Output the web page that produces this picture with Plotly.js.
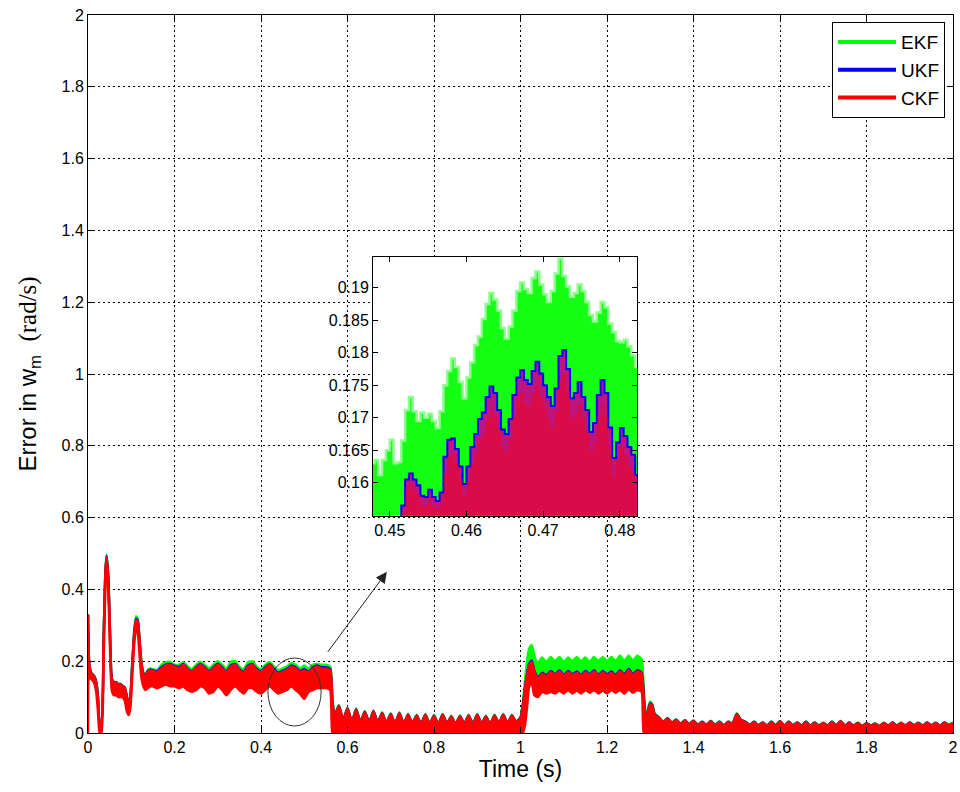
<!DOCTYPE html>
<html><head><meta charset="utf-8">
<script src="https://cdn.plot.ly/plotly-3.0.1.min.js"></script>
<style>html,body{margin:0;padding:0;background:#fff}#chart{width:960px;height:792px}</style>
</head><body><div id="chart"></div>
<script>
// ---------- main plot: time base (s) ----------
const time = [
  0,0.003,0.008,0.014,0.019,0.023,0.027,0.031,0.036,0.040,0.043,0.047,0.051,0.055,0.060,0.065,0.070,0.075,0.080,0.085,0.090,0.094,0.098,0.102,0.107,0.111,0.115,0.119,0.123,0.128,0.133,0.138,0.144,0.150,
  0.16,0.17,0.18,0.19,0.20,0.21,0.22,0.23,0.24,0.25,0.26,0.27,0.28,0.29,0.30,0.31,0.32,0.33,0.34,0.35,0.36,0.37,0.38,0.39,0.40,0.41,0.42,0.43,0.44,0.45,0.46,0.47,0.48,0.49,0.50,0.51,0.52,0.53,0.54,0.55,0.56,
  0.565,0.57,
  0.58,0.59,0.60,0.61,0.62,0.63,0.64,0.65,0.66,0.67,0.68,0.69,0.70,0.71,0.72,0.73,0.74,0.75,0.76,0.77,0.78,0.79,0.80,0.81,0.82,0.83,0.84,0.85,0.86,0.87,0.88,0.89,0.90,0.91,0.92,0.93,0.94,0.95,0.96,0.97,0.98,0.99,1.00,
  1.005,1.01,1.015,1.02,1.026,1.032,
  1.04,1.05,1.06,1.07,1.08,1.09,1.10,1.11,1.12,1.13,1.14,1.15,1.16,1.17,1.18,1.19,1.20,1.21,1.22,1.23,1.24,1.25,1.26,1.27,1.28,
  1.285,1.29,1.295,1.30,1.305,1.31,
  1.32,1.33,1.34,1.35,1.36,1.37,1.38,1.39,1.40,1.41,1.42,1.43,1.44,1.45,1.46,1.47,1.48,1.49,1.50,1.51,1.52,1.53,1.54,1.55,1.56,1.57,1.58,1.59,1.60,1.61,1.62,1.63,1.64,1.65,1.66,1.67,1.68,1.69,1.70,1.71,1.72,1.73,1.74,1.75,1.76,1.77,1.78,1.79,1.80,1.81,1.82,1.83,1.84,1.85,1.86,1.87,1.88,1.89,1.90,1.91,1.92,1.93,1.94,1.95,1.96,1.97,1.98,1.99,2.00
];
// EKF upper envelope
const ekfHi = [
  0.33,0.19,0.167,0.16,0.142,0.10,0.03,0.03,0.255,0.445,0.497,0.435,0.275,0.153,0.142,0.142,0.137,0.137,0.132,0.127,0.10,0.08,0.10,0.185,0.285,0.325,0.318,0.265,0.203,0.168,0.163,0.175,0.18,0.178,
  0.175,0.19,0.197,0.198,0.19,0.19,0.197,0.186,0.178,0.19,0.198,0.19,0.18,0.19,0.2,0.19,0.178,0.198,0.2,0.185,0.178,0.197,0.2,0.185,0.178,0.19,0.198,0.185,0.175,0.18,0.185,0.195,0.19,0.18,0.188,0.18,0.19,0.192,0.19,0.19,0.185,
  0.1,0.05,
  0.078,0.036,0.071,0.031,0.068,0.031,0.061,0.029,0.063,0.029,0.058,0.028,0.055,0.026,0.058,0.026,0.053,0.027,0.051,0.025,0.053,0.026,0.05,0.025,0.053,0.026,0.048,0.025,0.049,0.026,0.051,0.025,0.053,0.026,0.048,0.025,0.051,0.027,0.053,0.027,0.051,0.031,0.045,
  0.08,0.14,0.2,0.235,0.245,0.215,
  0.195,0.21,0.198,0.212,0.2,0.212,0.198,0.21,0.2,0.212,0.2,0.21,0.198,0.212,0.2,0.212,0.2,0.212,0.2,0.215,0.2,0.215,0.202,0.215,0.205,
  0.12,0.035,0.07,0.088,0.08,0.055,
  0.044,0.031,0.042,0.029,0.038,0.026,0.036,0.025,0.035,0.023,0.032,0.023,0.034,0.023,0.032,0.022,0.032,0.026,0.055,0.037,0.032,0.023,0.032,0.022,0.03,0.021,0.032,0.022,0.034,0.021,0.032,0.022,0.03,0.021,0.032,0.021,0.03,0.021,0.029,0.021,0.032,0.022,0.034,0.021,0.03,0.021,0.029,0.02,0.028,0.021,0.027,0.02,0.029,0.021,0.03,0.021,0.029,0.021,0.03,0.022,0.029,0.021,0.03,0.022,0.029,0.021,0.03,0.023,0.029
];
// UKF upper envelope
const ukfHi = [
  0.33,0.19,0.166,0.159,0.141,0.10,0.03,0.03,0.252,0.442,0.493,0.432,0.272,0.151,0.141,0.141,0.136,0.136,0.131,0.126,0.10,0.08,0.10,0.182,0.282,0.318,0.313,0.262,0.201,0.166,0.161,0.172,0.177,0.174,
  0.172,0.183,0.19,0.192,0.187,0.183,0.192,0.18,0.172,0.183,0.192,0.183,0.172,0.183,0.193,0.183,0.17,0.188,0.192,0.178,0.17,0.188,0.192,0.178,0.172,0.183,0.192,0.178,0.168,0.173,0.178,0.188,0.183,0.173,0.178,0.17,0.183,0.188,0.183,0.183,0.178,
  0.092,0.046,
  0.076,0.036,0.069,0.031,0.066,0.031,0.059,0.029,0.061,0.029,0.056,0.028,0.053,0.026,0.056,0.026,0.051,0.027,0.049,0.025,0.051,0.026,0.048,0.025,0.051,0.026,0.046,0.025,0.047,0.026,0.049,0.025,0.051,0.026,0.046,0.025,0.049,0.027,0.051,0.027,0.049,0.031,0.042,
  0.072,0.123,0.163,0.193,0.202,0.174,
  0.153,0.168,0.161,0.173,0.163,0.175,0.161,0.173,0.163,0.171,0.161,0.173,0.163,0.175,0.161,0.173,0.163,0.171,0.161,0.175,0.163,0.178,0.163,0.175,0.168,
  0.105,0.032,0.063,0.083,0.077,0.052,
  0.043,0.03,0.041,0.028,0.037,0.025,0.035,0.024,0.034,0.022,0.031,0.022,0.033,0.022,0.031,0.021,0.031,0.025,0.053,0.036,0.031,0.022,0.031,0.021,0.029,0.02,0.031,0.021,0.033,0.02,0.031,0.021,0.029,0.02,0.031,0.02,0.029,0.02,0.028,0.02,0.031,0.021,0.033,0.02,0.029,0.02,0.028,0.019,0.027,0.02,0.026,0.019,0.028,0.02,0.029,0.02,0.028,0.02,0.029,0.021,0.028,0.02,0.029,0.021,0.028,0.02,0.029,0.022,0.028
];
// CKF upper envelope
const ckfHi = [
  0.33,0.19,0.165,0.158,0.14,0.10,0.03,0.03,0.25,0.44,0.49,0.43,0.27,0.15,0.14,0.14,0.135,0.135,0.13,0.125,0.10,0.08,0.10,0.18,0.28,0.315,0.31,0.26,0.20,0.165,0.16,0.17,0.175,0.172,
  0.17,0.18,0.188,0.19,0.185,0.18,0.19,0.178,0.17,0.18,0.19,0.18,0.17,0.18,0.19,0.18,0.168,0.185,0.19,0.175,0.168,0.185,0.19,0.175,0.17,0.18,0.19,0.175,0.165,0.17,0.175,0.185,0.18,0.17,0.175,0.168,0.18,0.185,0.18,0.18,0.175,
  0.09,0.045,
  0.075,0.035,0.068,0.03,0.065,0.03,0.058,0.028,0.06,0.028,0.055,0.027,0.052,0.025,0.055,0.025,0.05,0.026,0.048,0.024,0.05,0.025,0.047,0.024,0.05,0.025,0.045,0.024,0.046,0.025,0.048,0.024,0.05,0.025,0.045,0.024,0.048,0.026,0.05,0.026,0.048,0.03,0.04,
  0.07,0.12,0.16,0.19,0.198,0.17,
  0.15,0.165,0.158,0.17,0.16,0.172,0.158,0.17,0.16,0.168,0.158,0.17,0.16,0.172,0.158,0.17,0.16,0.168,0.158,0.172,0.16,0.175,0.16,0.172,0.165,
  0.1,0.03,0.06,0.08,0.075,0.05,
  0.042,0.03,0.04,0.028,0.036,0.025,0.034,0.024,0.033,0.022,0.03,0.022,0.032,0.022,0.03,0.021,0.03,0.025,0.052,0.035,0.03,0.022,0.03,0.021,0.028,0.02,0.03,0.021,0.032,0.02,0.03,0.021,0.028,0.02,0.03,0.02,0.028,0.02,0.027,0.02,0.03,0.021,0.032,0.02,0.028,0.02,0.027,0.019,0.026,0.02,0.025,0.019,0.027,0.02,0.028,0.02,0.027,0.02,0.028,0.021,0.027,0.02,0.028,0.021,0.027,0.02,0.028,0.022,0.027
];
// common lower envelope of the three error signals
const ckfLo = [
  0,0.155,0.15,0.14,0.115,0.06,0,0,0.2,0.4,0.47,0.4,0.23,0.12,0.105,0.105,0.10,0.10,0.10,0.09,0.06,0.05,0.07,0.15,0.25,0.29,0.28,0.22,0.16,0.13,0.12,0.125,0.13,0.13,
  0.125,0.13,0.135,0.13,0.13,0.125,0.13,0.12,0.115,0.12,0.13,0.125,0.11,0.115,0.13,0.12,0.105,0.12,0.13,0.12,0.11,0.125,0.125,0.115,0.11,0.12,0.13,0.12,0.11,0.115,0.12,0.13,0.12,0.11,0.095,0.115,0.12,0.125,0.125,0.125,0.12,
  0,0,
  0,0,0,0,0,0,0,0,0,0,0,0,0,0,0,0,0,0,0,0,0,0,0,0,0,0,0,0,0,0,0,0,0,0,0,0,0,0,0,0,0,0,0,
  0,0.02,0.07,0.13,0.14,0.105,
  0.10,0.115,0.11,0.115,0.11,0.118,0.11,0.12,0.11,0.118,0.11,0.12,0.112,0.12,0.11,0.118,0.11,0.12,0.112,0.12,0.11,0.122,0.112,0.12,0.115,
  0,0,0,0,0,0,
  0,0,0,0,0,0,0,0,0,0,0,0,0,0,0,0,0,0,0,0,0,0,0,0,0,0,0,0,0,0,0,0,0,0,0,0,0,0,0,0,0,0,0,0,0,0,0,0,0,0,0,0,0,0,0,0,0,0,0,0,0,0,0,0,0,0,0,0,0
];
// ---------- inset (zoom 0.448 - 0.482 s) ----------
const timeZoom = [
  0.4475,0.4480,0.4485,0.4490,0.4495,0.4500,0.4505,0.4510,0.4515,0.4520,
  0.4525,0.4530,0.4535,0.4540,0.4545,0.4550,0.4555,0.4560,0.4565,0.4570,
  0.4575,0.4580,0.4585,0.4590,0.4595,0.4600,0.4605,0.4610,0.4615,0.4620,
  0.4625,0.4630,0.4635,0.4640,0.4645,0.4650,0.4655,0.4660,0.4665,0.4670,
  0.4675,0.4680,0.4685,0.4690,0.4695,0.4700,0.4705,0.4710,0.4715,0.4720,
  0.4725,0.4730,0.4735,0.4740,0.4745,0.4750,0.4755,0.4760,0.4765,0.4770,
  0.4775,0.4780,0.4785,0.4790,0.4795,0.4800,0.4805,0.4810,0.4815,0.4820,
  0.4825
];
const ekfZoom = [
  0.163,0.1635,0.1612,0.1635,0.165,0.1666,0.163,0.1632,0.1665,0.1712,
  0.1732,0.171,0.1695,0.1708,0.17,0.1706,0.1695,0.1684,0.171,0.175,
  0.1772,0.1791,0.1778,0.1755,0.173,0.1762,0.1785,0.1812,0.1825,0.1852,
  0.1875,0.1892,0.1882,0.1865,0.1838,0.1822,0.184,0.1865,0.1895,0.1908,
  0.1898,0.1892,0.1915,0.1925,0.1905,0.189,0.1878,0.1895,0.1922,0.1945,
  0.1918,0.1902,0.1886,0.1892,0.1905,0.1895,0.1878,0.1858,0.1848,0.1862,
  0.1878,0.187,0.1845,0.1832,0.1818,0.1816,0.182,0.181,0.1796,0.1778,
  0.1765
];
const ukfZoom = [
  0.152,0.152,0.152,0.152,0.152,0.152,0.152,0.152,0.1565,0.1605,
  0.1614,0.1605,0.1596,0.158,0.1578,0.1589,0.1578,0.1572,0.1585,0.164,
  0.1666,0.1668,0.1652,0.1625,0.1598,0.1625,0.1655,0.1675,0.1698,0.1708,
  0.1732,0.1748,0.1738,0.1712,0.1682,0.1675,0.1698,0.1735,0.1762,0.1773,
  0.1758,0.1752,0.1772,0.1786,0.1768,0.175,0.1732,0.1718,0.1745,0.1795,
  0.1804,0.1775,0.173,0.1738,0.1755,0.1732,0.1712,0.1678,0.1692,0.1735,
  0.1758,0.1738,0.1685,0.1638,0.1662,0.1684,0.1672,0.1655,0.1643,0.1612,
  0.1632
];
const ckfZoom = [
  0.152,0.152,0.152,0.152,0.152,0.152,0.152,0.152,0.1555,0.159,
  0.1598,0.159,0.1582,0.1565,0.1566,0.1575,0.1565,0.156,0.157,0.1615,
  0.1642,0.1645,0.163,0.1605,0.158,0.1602,0.1628,0.1645,0.1665,0.1675,
  0.1698,0.1712,0.1702,0.1682,0.1655,0.1648,0.1668,0.1702,0.1725,0.1738,
  0.1722,0.1718,0.1736,0.175,0.1732,0.1715,0.1698,0.1685,0.171,0.1758,
  0.1768,0.174,0.1698,0.1705,0.172,0.17,0.168,0.1648,0.166,0.17,
  0.1722,0.1705,0.1655,0.161,0.1635,0.1655,0.1642,0.1626,0.1615,0.1585,
  0.1605
];
// ---------- labels / ticks ----------
const seriesNames = ['EKF', 'UKF', 'CKF'];
const mainTickVals = [0,0.2,0.4,0.6,0.8,1,1.2,1.4,1.6,1.8,2];
const mainTickText = ['0','0.2','0.4','0.6','0.8','1','1.2','1.4','1.6','1.8','2'];
const zoomXTickVals = [0.45,0.46,0.47,0.48];
const zoomXTickText = ['0.45','0.46','0.47','0.48'];
const zoomYTickVals = [0.16,0.165,0.17,0.175,0.18,0.185,0.19];
const zoomYTickText = ['0.16','0.165','0.17','0.175','0.18','0.185','0.19'];

[ekfHi, ukfHi, ckfHi, ckfLo].forEach((a, i) => {
  if (a.length !== time.length) throw new Error('length mismatch main ' + i + ': ' + a.length + ' vs ' + time.length);
});
[ekfZoom, ukfZoom, ckfZoom].forEach((a, i) => {
  if (a.length !== timeZoom.length) throw new Error('length mismatch zoom ' + i + ': ' + a.length + ' vs ' + timeZoom.length);
});

const GREEN = '#00ff00', BLUE = '#0000ff', RED = '#ff0000';
const FONT = 'Liberation Sans, Arial, Helvetica, sans-serif';
const spl = {shape: 'spline', smoothing: 0.5};

const traces = [
  {x: time, y: ckfLo, mode: 'lines', line: Object.assign({width: 0}, spl), showlegend: false, hoverinfo: 'skip'},
  {x: time, y: ekfHi, mode: 'lines', fill: 'tonexty', fillcolor: GREEN, line: Object.assign({color: GREEN, width: 2.5}, spl), showlegend: false, name: seriesNames[0]},
  {x: time, y: ckfLo, mode: 'lines', line: Object.assign({width: 0}, spl), showlegend: false, hoverinfo: 'skip'},
  {x: time, y: ukfHi, mode: 'lines', fill: 'tonexty', fillcolor: BLUE, line: Object.assign({color: BLUE, width: 2.5}, spl), showlegend: false, name: seriesNames[1]},
  {x: time, y: ckfLo, mode: 'lines', line: Object.assign({color: RED, width: 2.5}, spl), showlegend: false, hoverinfo: 'skip'},
  {x: time, y: ckfHi, mode: 'lines', fill: 'tonexty', fillcolor: RED, line: Object.assign({color: RED, width: 2.5}, spl), showlegend: false, name: seriesNames[2]},
  // legend entries
  {x: [null], y: [null], mode: 'lines', line: {color: GREEN, width: 4}, name: seriesNames[0]},
  {x: [null], y: [null], mode: 'lines', line: {color: BLUE, width: 4}, name: seriesNames[1]},
  {x: [null], y: [null], mode: 'lines', line: {color: RED, width: 4}, name: seriesNames[2]},
  // inset
  {x: timeZoom, y: ekfZoom, xaxis: 'x2', yaxis: 'y2', mode: 'lines', fill: 'tozeroy', fillcolor: '#14ff14', line: {color: '#90ff90', width: 2.5, shape: 'hv'}, showlegend: false},
  {x: timeZoom, y: ukfZoom, xaxis: 'x2', yaxis: 'y2', mode: 'lines', fill: 'tozeroy', fillcolor: 'rgb(190,20,125)', line: {color: BLUE, width: 2, shape: 'hv'}, showlegend: false},
  {x: timeZoom, y: ckfZoom, xaxis: 'x2', yaxis: 'y2', mode: 'lines', fill: 'tozeroy', fillcolor: 'rgba(255,0,0,0.42)', line: {width: 0, shape: 'hv'}, showlegend: false}
];

const axisCommon = {
  ticks: 'inside', ticklen: 6, tickcolor: '#000', tickwidth: 1,
  showline: true, linecolor: '#000', linewidth: 1, mirror: 'ticks',
  zeroline: false, tickfont: {family: FONT, size: 16, color: '#000'}
};

const layout = {
  width: 960, height: 792,
  margin: {l: 88, r: 7, t: 15, b: 59},
  paper_bgcolor: '#fff', plot_bgcolor: '#fff',
  font: {family: FONT, color: '#000'},
  showlegend: true,
  legend: {x: 0.9908, xanchor: 'right', y: 0.99, yanchor: 'top', bgcolor: '#fff', bordercolor: '#000', borderwidth: 1,
           traceorder: 'normal', font: {family: FONT, size: 19, color: '#000'}, itemwidth: 58, tracegroupgap: 0},
  xaxis: Object.assign({}, axisCommon, {
    domain: [0, 1], range: [0, 2], tickvals: mainTickVals, ticktext: mainTickText,
    showgrid: true, gridcolor: '#000', gridwidth: 1, griddash: '1.5px,3.5px',
    title: {text: 'Time (s)', font: {family: FONT, size: 23, color: '#000'}, standoff: 4}
  }),
  yaxis: Object.assign({}, axisCommon, {
    domain: [0, 1], range: [0, 2], tickvals: mainTickVals, ticktext: mainTickText,
    showgrid: true, gridcolor: '#000', gridwidth: 1, griddash: '1.5px,3.5px',
    title: {text: 'Error in w<sub>m</sub> &nbsp;<span style="font-family:Liberation Serif;font-size:25px">(rad/s)</span>',
            font: {family: FONT, size: 24, color: '#000'}, standoff: 18}
  }),
  xaxis2: Object.assign({}, axisCommon, {
    domain: [0.3295, 0.6347], range: [0.44782, 0.48224], anchor: 'y2',
    tickvals: zoomXTickVals, ticktext: zoomXTickText, showgrid: false, ticklen: 5
  }),
  yaxis2: Object.assign({}, axisCommon, {
    domain: [0.3026, 0.6634], range: [0.15492, 0.19477], anchor: 'x2',
    tickvals: zoomYTickVals, ticktext: zoomYTickText, showgrid: false, ticklen: 5
  }),
  shapes: [
    {type: 'circle', xref: 'x', yref: 'y', x0: 0.416, x1: 0.539, y0: 0.0195, y1: 0.209, line: {color: '#333', width: 1}}
  ],
  annotations: [
    {x: 0.691, y: 0.449, ax: 0.552, ay: 0.222, xref: 'x', yref: 'y', axref: 'x', ayref: 'y', text: '',
     showarrow: true, arrowhead: 2, arrowsize: 2.2, arrowwidth: 1, arrowcolor: '#222'}
  ]
};

Plotly.newPlot('chart', traces, layout, {displayModeBar: false, staticPlot: true});
</script>
</body></html>
